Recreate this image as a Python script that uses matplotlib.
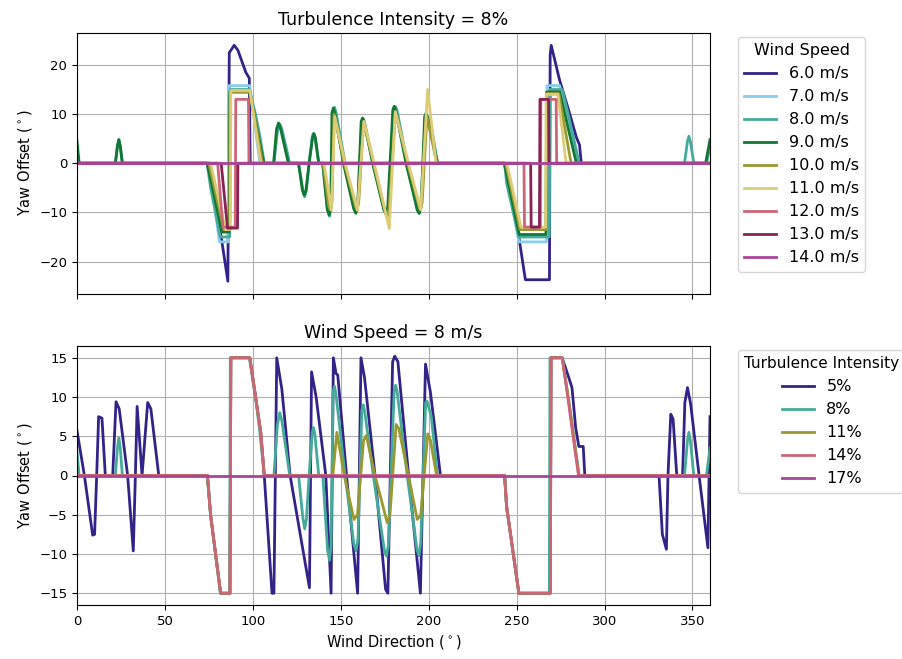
import matplotlib
matplotlib.use('Agg')
import matplotlib.pyplot as plt

# Tol "muted" palette
colors_ws = ['#332288', '#88CCEE', '#44AA99', '#117733', '#999933',
             '#DDCC77', '#CC6677', '#882255', '#AA4499']
colors_ti = ['#332288', '#44AA99', '#999933', '#CC6677', '#AA4499']

wind_speeds = [6.0, 7.0, 8.0, 9.0, 10.0, 11.0, 12.0, 13.0, 14.0]
turb_int = [5, 8, 11, 14, 17]

# ---- top panel: TI = 8 %, yaw offset vs wind direction for each wind speed
ws6_dir = [0, 74.5, 82.0, 85.8, 86.6, 89.4, 91.5, 96.0, 98.0, 98.5, 243.5, 251.5, 255.0,
           268.7, 269.1, 269.7, 274.4, 280.1, 283.9, 285.8, 286.8, 360]
ws6_yaw = [0, 0, -15.0, -24.0, 22.5, 24.0, 23.0, 18.5, 17.3, 0, 0, -15.5, -23.7,
           -23.7, 22.0, 24.0, 17.0, 10.2, 5.4, 3.7, 0, 0]

ws7_dir = [0, 75.0, 81.0, 86.0, 86.3, 98.3, 104.0, 243.3, 251.3, 267.0, 267.3, 274.5, 284.5, 360]
ws7_yaw = [0, 0, -16.0, -16.0, 15.8, 15.8, 0, 0, -16.0, -16.0, 15.8, 15.8, 0, 0]

# ws = 8 m/s at TI = 8 % (same curve in both panels)
ws8_dir = [0, 1.2, 21.8, 23.0, 23.8, 24.6, 25.8, 74.0, 76.0, 81.5,
           86.8, 87.2, 98.0, 101.5, 104.0, 106.5, 112.0, 114.0, 115.3, 116.5,
           121.0, 126.0, 128.5, 129.5, 130.5, 132.0, 133.8, 134.5, 135.3, 137.5,
           139.8, 142.5, 143.6, 144.5, 145.6, 146.4, 147.2, 152.5, 157.5, 158.7,
           159.8, 162.0, 162.8, 163.6, 168.5, 174.8, 176.0, 177.0, 180.4, 181.2,
           182.0, 187.8, 193.4, 194.5, 195.5, 198.3, 199.0, 201.5, 205.0, 243.2,
           244.3, 251.3, 268.6, 269.0, 276.0, 280.0, 285.6, 345.5, 347.2, 348.0,
           348.8, 350.8, 358.0, 360]
ws8_yaw = [3.0, 0, 0, 3.5, 4.8, 3.5, 0, 0, -5.0, -15.0,
           -15.0, 15.0, 15.0, 10.0, 5.5, 0, 0, 6.5, 8.0, 7.0,
           0, 0, -5.5, -6.8, -5.5, 0, 5.5, 6.1, 5.2, 0,
           0, -9.5, -10.8, -9.0, 10.5, 11.4, 10.5, 0, -8.8, -9.6,
           -8.0, 8.3, 9.0, 8.2, 0, -9.5, -10.3, -9.0, 10.8, 11.5,
           10.8, 0, -9.5, -10.2, -8.5, 9.3, 9.5, 7.5, 0, 0,
           -4.0, -15.0, -15.0, 15.0, 15.0, 9.0, 0, 0, 4.5, 5.5,
           4.5, 0, 0, 3.5]

ws9_dir = [0, 1.2, 21.8, 23.0, 23.8, 24.6, 25.8, 74.0, 82.5, 86.5,
           86.9, 98.0, 106.3, 111.8, 113.5, 114.6, 115.8, 120.2, 126.0, 128.2,
           129.2, 130.2, 132.0, 134.0, 134.8, 135.6, 137.5, 139.7, 142.3, 143.4,
           144.3, 145.0, 145.8, 146.6, 151.5, 157.4, 158.6, 159.6, 161.6, 162.4,
           163.2, 168.1, 174.5, 175.7, 176.7, 179.6, 180.4, 181.2, 187.1, 193.6,
           194.7, 195.7, 197.7, 198.5, 199.3, 205.1, 243.0, 251.5, 266.7, 267.1,
           274.5, 284.0, 357.5, 360]
ws9_yaw = [4.5, 0, 0, 3.5, 4.8, 3.5, 0, 0, -14.0, -14.0,
           14.5, 14.5, 0, 0, 7.0, 8.2, 7.0, 0, 0, -5.5,
           -6.5, -5.5, 0, 5.2, 6.0, 5.2, 0, 0, -9.3, -10.5,
           -9.0, 10.3, 11.2, 10.3, 0, -9.3, -10.2, -8.8, 8.5, 9.2,
           8.5, 0, -9.5, -10.3, -9.0, 10.8, 11.6, 10.8, 0, -9.5,
           -10.2, -8.8, 9.5, 10.2, 9.5, 0, 0, -14.5, -14.5, 14.5,
           14.5, 0, 0, 4.8]

ws10_dir = [0, 75.0, 83.5, 86.8, 87.1, 98.5, 105.5, 140.0, 143.0, 144.0,
            145.0, 146.2, 152.0, 158.2, 159.2, 160.2, 163.0, 168.6, 175.4, 176.4,
            177.4, 181.2, 188.0, 194.3, 195.3, 196.3, 199.0, 204.6, 243.8, 252.0,
            266.9, 267.2, 274.0, 281.0, 360]
ws10_yaw = [0, 0, -13.5, -13.5, 14.5, 14.5, 0, 0, -8.5, -9.5,
            -8.0, 10.0, 0, -8.5, -9.5, -8.0, 8.5, 0, -10.0, -11.0,
            -9.5, 10.5, 0, -8.5, -9.5, -8.0, 9.5, 0, 0, -13.5,
            -13.5, 14.2, 14.2, 0, 0]

ws11_dir = [0, 76.0, 84.5, 87.2, 87.5, 98.3, 104.6, 140.5, 144.6, 146.6,
            152.5, 159.5, 163.2, 169.0, 177.6, 181.0, 188.5, 195.5, 199.4, 204.2,
            244.5, 252.5, 266.5, 266.8, 273.5, 278.2, 360]
ws11_yaw = [0, 0, -13.5, -13.5, 14.8, 14.8, 0, 0, -9.5, 9.5,
            0, -9.5, 8.5, 0, -13.3, 10.5, 0, -9.5, 15.0, 0,
            0, -13.0, -13.0, 14.0, 14.0, 0, 0]

ws12_dir = [0, 80.0, 83.0, 90.0, 90.3, 97.5, 97.8, 254.2, 254.5, 263.5, 263.8, 272.5, 272.8, 360]
ws12_yaw = [0, 0, -13.0, -13.0, 13.0, 13.0, 0, 0, -13.0, -13.0, 13.0, 13.0, 0, 0]

ws13_dir = [0, 82.0, 85.6, 91.3, 91.5, 258.0, 258.3, 263.0, 263.3, 268.2, 268.5, 360]
ws13_yaw = [0, 0, -13.2, -13.2, 0, 0, -13.0, -13.0, 13.0, 13.0, 0, 0]

ws14_dir = [0, 360]
ws14_yaw = [0, 0]

# ---- bottom panel: ws = 8 m/s, yaw offset for each turbulence intensity
ti5_dir = [0, 4.2, 8.9, 10.0, 11.2, 12.3, 14.2, 16.1, 20.3, 22.2,
           24.0, 28.8, 32.0, 33.2, 34.2, 37.0, 40.2, 42.0, 46.5, 74.2,
           76.0, 81.7, 87.0, 87.5, 98.3, 101.5, 104.5, 106.5, 110.9, 112.0,
           113.6, 116.5, 121.2, 132.2, 133.4, 136.0, 141.5, 144.5, 145.8, 147.3,
           148.3, 153.3, 159.6, 161.5, 163.5, 169.5, 175.5, 176.8, 179.5, 180.7,
           182.5, 188.6, 195.3, 198.2, 201.0, 203.5, 206.7, 243.2, 244.3, 251.3,
           269.2, 269.6, 275.9, 279.8, 281.5, 283.6, 285.4, 287.9, 288.8, 331.0,
           332.9, 335.2, 336.1, 337.7, 339.0, 341.1, 344.4, 345.7, 347.2, 349.0,
           353.8, 358.8, 360]
ti5_yaw = [5.7, 0, -7.6, -7.5, 0, 7.5, 7.3, 0, 0, 9.4,
           8.5, 0, -9.6, 0, 8.8, 0, 9.3, 8.5, 0, 0,
           -5.1, -15, -15, 15, 15, 10.1, 5.5, 0, -15, -15,
           15, 11, 0, -14.3, 13.2, 10, 0, -15, 15, 13,
           12.8, 0, -15, 15, 12.5, 0, -14.5, -15, 14.5, 15.2,
           14.5, 0, -15, 14.2, 10.6, 6, 0, 0, -3.9, -15,
           -15, 15, 15, 12.4, 11.2, 6.1, 3.7, 3.7, 0, 0,
           -7.5, -9.4, 0, 7.8, 7.2, 0, 0, 9.3, 11.2, 9.1,
           0, -9.2, 7.5]

ti11_dir = [0, 74.2, 76.0, 81.7, 87.0, 87.5, 98.3, 101.5, 104.5, 106.5,
            145.5, 147.8, 152.0, 157.5, 159.5, 163.0, 164.5, 169.5, 176.4, 178.0,
            181.5, 183.0, 188.5, 193.5, 195.5, 199.5, 201.0, 204.5, 243.2, 244.3,
            251.3, 269.2, 269.6, 275.9, 280.0, 285.4, 360]
ti11_yaw = [0, 0, -5.1, -15, -15, 15, 15, 10.1, 5.5, 0,
            0, 5.5, 0, -5.6, -5.0, 4.5, 5.1, 0, -6.0, -5.0,
            6.5, 6.0, 0, -5.6, -5.0, 5.3, 4.5, 0, 0, -3.9,
            -15, -15, 15, 15, 9.0, 0, 0]

ti14_dir = [0, 74.2, 76.0, 81.7, 87.0, 87.5, 98.3, 101.5, 104.5, 106.5,
            243.2, 244.3, 251.3, 269.2, 269.6, 275.9, 278.5, 282.6, 285.2, 360]
ti14_yaw = [0, 0, -5.1, -15, -15, 15, 15, 10.1, 5.5, 0,
            0, -3.9, -15, -15, 15, 15, 11, 4.2, 0, 0]

ti17_dir = [0, 360]
ti17_yaw = [0, 0]

top_series = [(ws6_dir, ws6_yaw), (ws7_dir, ws7_yaw), (ws8_dir, ws8_yaw),
              (ws9_dir, ws9_yaw), (ws10_dir, ws10_yaw), (ws11_dir, ws11_yaw),
              (ws12_dir, ws12_yaw), (ws13_dir, ws13_yaw), (ws14_dir, ws14_yaw)]
bottom_series = [(ti5_dir, ti5_yaw), (ws8_dir, ws8_yaw), (ti11_dir, ti11_yaw),
                 (ti14_dir, ti14_yaw), (ti17_dir, ti17_yaw)]

fig = plt.figure(figsize=(9.02, 6.59), dpi=100)
ax1 = fig.add_axes([77 / 902, 1 - 293.5 / 659, 633 / 902, 260.5 / 659])
ax2 = fig.add_axes([77 / 902, 1 - 605 / 659, 633 / 902, 259 / 659], sharex=ax1)

for (d, y), ws, c in zip(top_series, wind_speeds, colors_ws):
    ax1.plot(d, y, color=c, lw=2, label=f'{ws:.1f} m/s')
for (d, y), ti, c in zip(bottom_series, turb_int, colors_ti):
    ax2.plot(d, y, color=c, lw=2, label=f'{ti}%')

ax1.set_xlim(0, 360)
ax1.set_ylim(-26.5, 26.5)
ax2.set_ylim(-16.5, 16.5)
ax1.set_yticks([-20, -10, 0, 10, 20])
ax2.set_yticks([-15, -10, -5, 0, 5, 10, 15])
ax2.set_xticks(range(0, 351, 50))
ax1.tick_params(labelbottom=False)

for ax in (ax1, ax2):
    ax.grid(True)
    ax.tick_params(labelsize=9.5)
    ax.set_ylabel('Yaw Offset ($^\\circ$)', fontsize=10.5)

ax1.set_title('Turbulence Intensity = 8%', fontsize=12.5)
ax2.set_title('Wind Speed = 8 m/s', fontsize=12.5)
ax2.set_xlabel('Wind Direction ($^\\circ$)', fontsize=10.5)

ax1.legend(title='Wind Speed', loc='upper left', bbox_to_anchor=(1.044, 0.985),
           borderaxespad=0, fontsize=11.5, title_fontsize=11.5)
ax2.legend(title='Turbulence Intensity', loc='upper left', bbox_to_anchor=(1.044, 0.985),
           borderaxespad=0, fontsize=11.5, title_fontsize=11.0)

fig.savefig('out.png', dpi=100)
